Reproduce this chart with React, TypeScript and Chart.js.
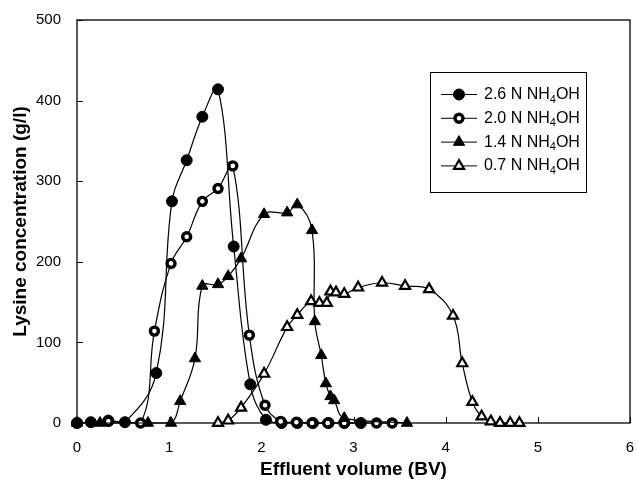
import React, { useEffect, useRef } from "react";
import { Chart, registerables } from "chart.js";

Chart.register(...registerables);

// ---- Data ----
const seriesLabels = ["2.6 N NH₄OH", "2.0 N NH₄OH", "1.4 N NH₄OH", "0.7 N NH₄OH"];

const x26 = [0, 0.15, 0.34, 0.52, 0.86, 1.03, 1.19, 1.36, 1.53, 1.70, 1.88, 2.05, 2.22, 2.39, 2.56, 2.73, 2.90, 3.08];
const y26 = [0, 1, 3, 1, 62, 275, 326, 380, 414, 219, 48, 4, 0, 0, 0, 0, 0, 0];

const x20 = [0, 0.34, 0.69, 0.84, 1.02, 1.19, 1.36, 1.53, 1.69, 1.87, 2.04, 2.21, 2.38, 2.55, 2.72, 2.90, 3.25, 3.42];
const y20 = [0, 2, 0, 114, 198, 231, 275, 291, 319, 109, 22, 2, 1, 0, 0, 0, 0, 0];

const x14 = [0, 0.25, 0.77, 1.02, 1.12, 1.28, 1.36, 1.53, 1.64, 1.78, 2.03, 2.28, 2.39, 2.55, 2.58, 2.65, 2.70, 2.75, 2.79, 2.90, 3.58];
const y14 = [0, 0, 0, 0, 27, 80, 170, 172, 182, 204, 259, 261, 271, 239, 126, 84, 49, 33, 28, 6, 0];

const x07 = [1.53, 1.64, 1.78, 2.03, 2.28, 2.39, 2.54, 2.63, 2.71, 2.75, 2.81, 2.90, 3.05, 3.31, 3.56, 3.82, 4.08, 4.18, 4.29, 4.39, 4.49, 4.59, 4.70, 4.80];
const y07 = [0, 3, 19, 61, 119, 134, 151, 149, 149, 163, 162, 160, 168, 174, 170, 166, 133, 74, 26, 8, 2, 0, 0, 0];

const xTicks = [0, 1, 2, 3, 4, 5, 6];
const yTicks = [0, 100, 200, 300, 400, 500];

const xTitle = "Effluent volume (BV)";
const yTitle = "Lysine concentration (g/l)";

const FONT = '"Liberation Sans", Arial, sans-serif';

const toPts = (xs: number[], ys: number[]) => xs.map((x, i) => ({ x, y: ys[i] }));

type MarkerSpec = { style: "circle" | "triangle"; radius: number; fill: string; border: number };
const markers: MarkerSpec[] = [
  { style: "circle", radius: 5.5, fill: "#000", border: 1 },
  { style: "circle", radius: 4, fill: "#fff", border: 3.4 },
  { style: "triangle", radius: 6.5, fill: "#000", border: 1 },
  { style: "triangle", radius: 5.8, fill: "#fff", border: 2.2 },
];

function drawMarker(ctx: CanvasRenderingContext2D, m: MarkerSpec, x: number, y: number) {
  ctx.beginPath();
  if (m.style === "circle") {
    ctx.arc(x, y, m.radius, 0, Math.PI * 2);
  } else {
    let rad = 0;
    const r = m.radius;
    ctx.moveTo(x + Math.sin(rad) * r, y - Math.cos(rad) * r);
    rad += (2 * Math.PI) / 3;
    ctx.lineTo(x + Math.sin(rad) * r, y - Math.cos(rad) * r);
    rad += (2 * Math.PI) / 3;
    ctx.lineTo(x + Math.sin(rad) * r, y - Math.cos(rad) * r);
    ctx.closePath();
  }
  ctx.fillStyle = m.fill;
  ctx.fill();
  ctx.lineWidth = m.border;
  ctx.strokeStyle = "#000";
  ctx.stroke();
}

const framePlugin = {
  id: "frameTicks",
  beforeDatasetsDraw(chart: any) {
    const { ctx, chartArea } = chart;
    const { left, right, top, bottom } = chartArea;
    const xs = chart.scales.x;
    const ys = chart.scales.y;
    ctx.save();
    ctx.strokeStyle = "#000";
    ctx.lineWidth = 1.3;
    ctx.strokeRect(left, top, right - left, bottom - top);
    ctx.lineWidth = 1;
    ctx.beginPath();
    xTicks.forEach((t) => {
      const px = Math.round(xs.getPixelForValue(t)) + 0.5;
      ctx.moveTo(px, bottom);
      ctx.lineTo(px, bottom - 6);
    });
    yTicks.forEach((t) => {
      const py = Math.round(ys.getPixelForValue(t)) + 0.5;
      ctx.moveTo(left, py);
      ctx.lineTo(left + 6, py);
    });
    ctx.stroke();
    ctx.restore();
  },
};

const legendPlugin = {
  id: "customLegend",
  afterDatasetsDraw(chart: any) {
    const ctx: CanvasRenderingContext2D = chart.ctx;
    ctx.save();
    const bx = 430.5, by = 72.5, bw = 156, bh = 120;
    ctx.fillStyle = "#fff";
    ctx.fillRect(bx, by, bw, bh);
    ctx.strokeStyle = "#000";
    ctx.lineWidth = 1;
    ctx.strokeRect(bx, by, bw, bh);
    chart.data.datasets.forEach((ds: any, i: number) => {
      const y = 94.5 + i * 23.8;
      ctx.beginPath();
      ctx.moveTo(441, y);
      ctx.lineTo(477, y);
      ctx.strokeStyle = "#000";
      ctx.lineWidth = 1;
      ctx.stroke();
      drawMarker(ctx, markers[i], 459, y);
      const label: string = ds.label;
      const parts = label.split("₄");
      let tx = 484;
      ctx.fillStyle = "#000";
      ctx.textBaseline = "middle";
      ctx.textAlign = "left";
      parts.forEach((p, k) => {
        ctx.font = `16px ${FONT}`;
        ctx.fillText(p, tx, y);
        tx += ctx.measureText(p).width;
        if (k < parts.length - 1) {
          ctx.font = `11px ${FONT}`;
          ctx.fillText("4", tx, y + 5);
          tx += ctx.measureText("4").width;
        }
      });
    });
    ctx.restore();
  },
};

export default function App() {
  const ref = useRef<HTMLCanvasElement | null>(null);
  useEffect(() => {
    if (!ref.current) return;
    const data = [toPts(x26, y26), toPts(x20, y20), toPts(x14, y14), toPts(x07, y07)];
    const chart = new Chart(ref.current, {
      type: "line",
      data: {
        datasets: data.map((d, i) => ({
          label: seriesLabels[i],
          data: d,
          borderColor: "#000",
          borderWidth: 1.2,
          tension: 0.4,
          pointStyle: markers[i].style,
          pointRadius: markers[i].radius,
          pointBackgroundColor: markers[i].fill,
          pointBorderColor: "#000",
          pointBorderWidth: markers[i].border,
          fill: false,
          clip: false as any,
          order: 3 - i,
        })),
      },
      options: {
        animation: false,
        responsive: false,
        events: [],
        layout: { padding: { left: 0, right: 6, top: 20, bottom: 0 } },
        plugins: { legend: { display: false }, tooltip: { enabled: false } },
        scales: {
          x: {
            type: "linear",
            min: 0,
            max: 6,
            afterFit: (s: any) => { s.height = 61; s.paddingLeft = 0; s.paddingRight = 0; },
            afterBuildTicks: (s: any) => { s.ticks = xTicks.map((v) => ({ value: v })); },
            grid: { display: false },
            border: { display: false },
            ticks: { color: "#000", padding: 8, font: { size: 15, family: FONT } },
            title: { display: true, text: xTitle, color: "#000", padding: { top: 0, bottom: 3 }, font: { size: 19, weight: "bold", family: FONT } },
          },
          y: {
            type: "linear",
            min: 0,
            max: 500,
            afterFit: (s: any) => { s.width = 77; s.paddingTop = 0; s.paddingBottom = 0; },
            afterBuildTicks: (s: any) => { s.ticks = yTicks.map((v) => ({ value: v })); },
            grid: { display: false },
            border: { display: false },
            ticks: { color: "#000", padding: 8, font: { size: 15, family: FONT } },
            title: { display: true, text: yTitle, color: "#000", padding: { top: 9, bottom: 0 }, font: { size: 19, weight: "bold", family: FONT } },
          },
        },
      } as any,
      plugins: [framePlugin, legendPlugin],
    });
    return () => chart.destroy();
  }, []);
  return (
    <canvas
      ref={ref}
      width={638}
      height={484}
      style={{ position: "fixed", left: 0, top: 0, width: 638, height: 484, background: "#fff" }}
    />
  );
}
